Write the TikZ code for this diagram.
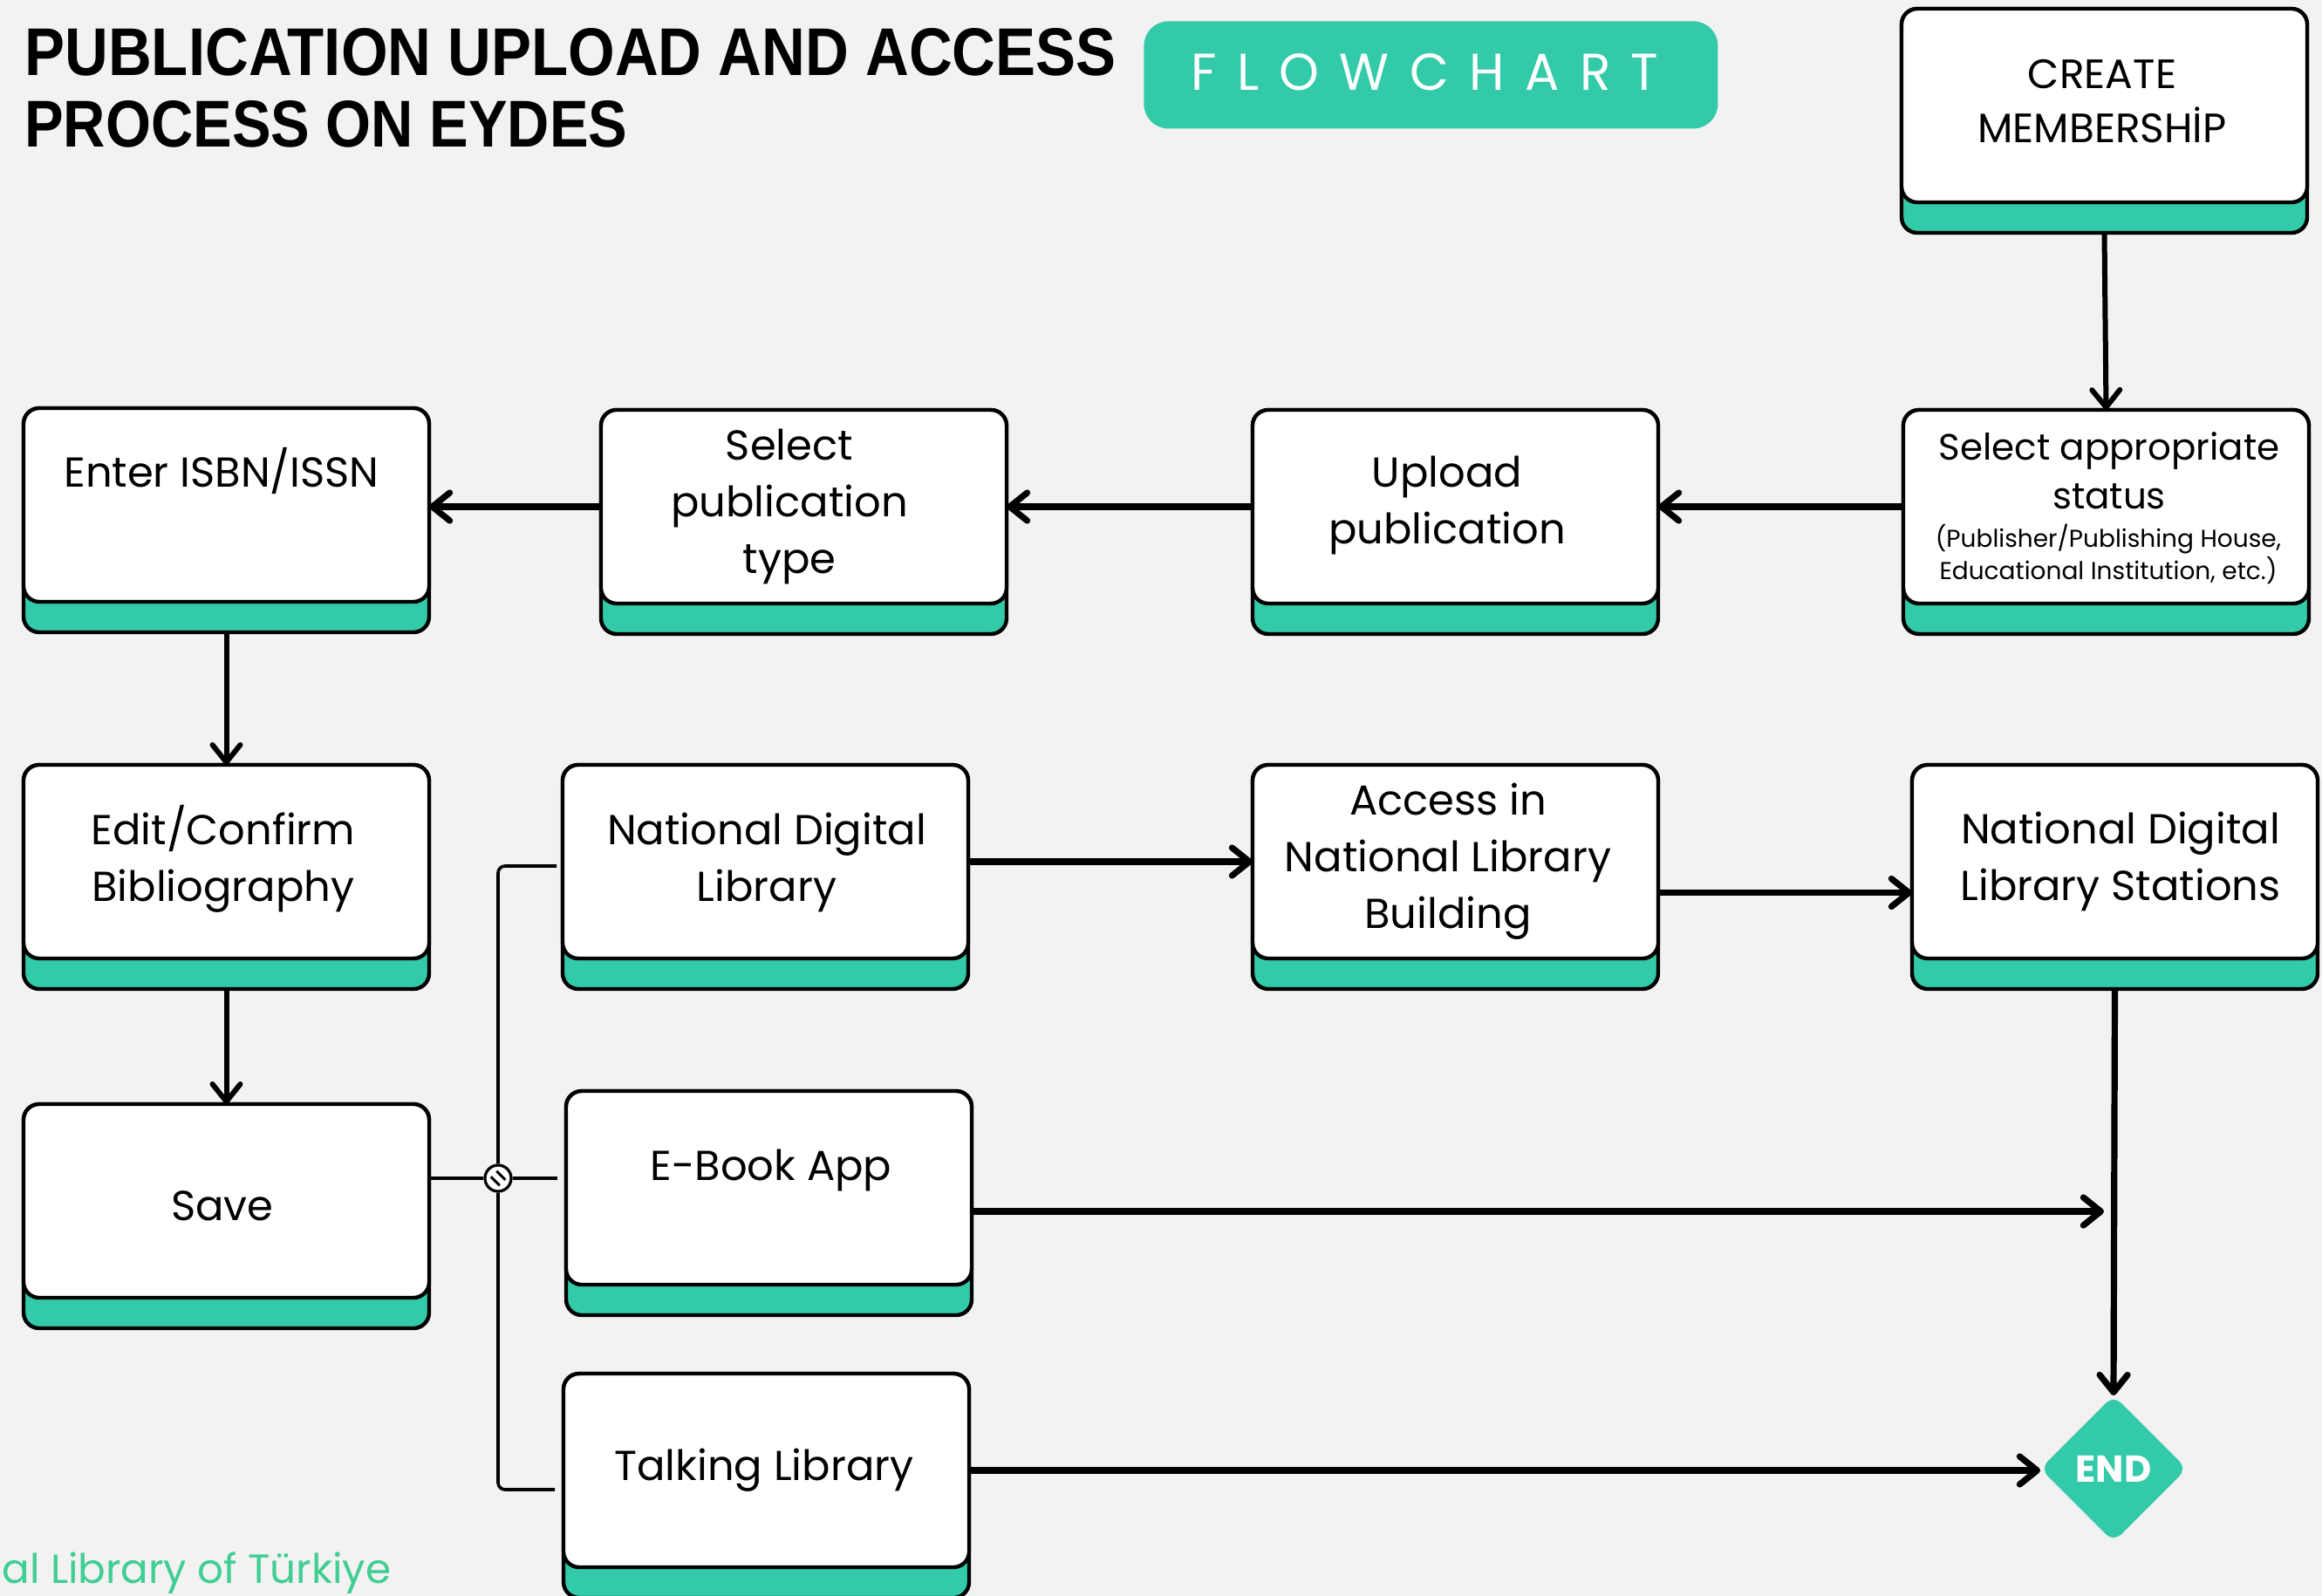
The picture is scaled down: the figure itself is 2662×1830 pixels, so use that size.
\documentclass[tikz,border=0pt]{standalone}
\usepackage{fontspec}
\usepackage{graphicx}
\usetikzlibrary{arrows.meta,shapes.geometric,calc}
\setmainfont{Poppins}
\newfontfamily\boxfam{Poppins}
\newfontfamily\titlefam{Liberation Sans}
\newfontfamily\flowfam[LetterSpace=40]{Poppins}
\definecolor{tealbox}{RGB}{50,202,168}
\definecolor{bggray}{RGB}{242,242,242}
\definecolor{footgreen}{RGB}{64,206,146}
\newcommand\flowbox[3]{%
  \node[outerbox] (#1) at (#2,#3) {};
  \draw[innerbox] (#1.north west) rectangle ([yshift=17.5pt]#1.south east);
}
\begin{document}
\begin{tikzpicture}[x=0.5pt,y=-0.5pt,
  outerbox/.style={draw=black, line width=2.2pt, fill=tealbox, rounded corners=9pt,
    minimum width=232.5pt, minimum height=128.5pt, inner sep=0pt, outer sep=0pt, anchor=north west},
  innerbox/.style={draw=black, line width=2.2pt, fill=white, rounded corners=9pt},
  boxtext/.style={anchor=base, inner sep=0pt, align=center, text=black,
    font=\boxfam\fontsize{24}{32.5}\selectfont},
  thickarrow/.style={line width=3.6pt, -{Straight Barb[round, length=10pt, width=16pt]}},
  thinarrow/.style={line width=3pt, -{Straight Barb[round, length=10pt, width=16pt]}},
  thinline/.style={line width=2.2pt},
  vline/.style={line width=1.8pt},
]
\fill[bggray] (0,0) rectangle (2662,1830);
\useasboundingbox (0,0) rectangle (2662,1830);

% title
\node[anchor=base west, inner sep=0pt] (title1) at (28,87)
  {\resizebox{625.5pt}{27pt}{\titlefam\bfseries PUBLICATION UPLOAD AND ACCESS}};
\node[anchor=base west, inner sep=0pt] (title2) at (28,169)
  {\resizebox{345.5pt}{26.5pt}{\titlefam\bfseries PROCESS ON EYDES}};

% badge
\node[fill=tealbox, rounded corners=14pt, minimum width=329pt, minimum height=61.5pt,
  inner sep=0pt, anchor=north west] (badge) at (1311,24) {};
\node[anchor=base west, inner sep=0pt, text=white] (flowtxt) at (1365,104)
  {\resizebox{268pt}{21pt}{\flowfam FLOWCHART}};

% boxes
\flowbox{create}{2180}{10}
\flowbox{status}{2182}{470}
\flowbox{upload}{1436}{470}
\flowbox{seltype}{689}{470}
\flowbox{enter}{27}{468}
\flowbox{edit}{27}{877}
\flowbox{ndl}{645}{877}
\flowbox{access}{1436}{877}
\flowbox{stations}{2192}{877}
\flowbox{save}{27}{1266}
\flowbox{ebook}{649}{1251}
\flowbox{talking}{646}{1575}

% texts (base = baseline of the last line)
\node[boxtext, font=\boxfam\fontsize{23.5}{31}\selectfont] (create-t) at (2410,164) {CREATE\\MEMBERSHİP};
\node[boxtext] (enter-t) at (254,558) {Enter ISBN/ISSN};
\node[boxtext] (seltype-t) at (905,657) {Select\\publication\\type};
\node[boxtext] (upload-t) at (1659,623) {Upload\\publication};
\node[boxtext, font=\boxfam\fontsize{21}{28}\selectfont] (status-t) at (2418,583) {Select appropriate\\status};
\node[boxtext, font=\boxfam\fontsize{14}{18.5}\selectfont] (status-s) at (2417,664) {(Publisher/Publishing House,\\Educational Institution, etc.)};
\node[boxtext] (edit-t) at (256,1033) {Edit/Confirm\\Bibliography};
\node[boxtext] (ndl-t) at (879,1033) {National Digital\\Library};
\node[boxtext] (access-t) at (1660,1064) {Access in\\National Library\\Building};
\node[boxtext] (stations-t) at (2431,1032) {National Digital\\Library Stations};
\node[boxtext] (save-t) at (255,1399) {Save};
\node[boxtext] (ebook-t) at (884,1353) {E-Book App};
\node[boxtext] (talking-t) at (876,1697) {Talking Library};

% end
\node[diamond, fill=tealbox, rounded corners=6pt, minimum width=84pt, minimum height=84pt,
  inner sep=0pt, outer sep=0pt, text=white, font=\boxfam\bfseries\fontsize{21.5}{24}\selectfont] (end) at (2423,1684) {END};

% footer
\node[anchor=base west, inner sep=0pt, text=footgreen, font=\boxfam\fontsize{23.4}{28}\selectfont] (foot) at (2,1815) {al Library of Türkiye};

% arrows
\draw[thinarrow] (create.south) -- (status.north);
\draw[thickarrow] ([yshift=8.75pt]status.west) -- ([yshift=8.75pt]upload.east);
\draw[thickarrow] ([yshift=8.75pt]upload.west) -- ([yshift=8.75pt]seltype.east);
\draw[thickarrow] ([yshift=8.75pt]seltype.west) -- ([yshift=8.75pt]seltype.west -| enter.east);
\draw[thinarrow] (enter.south) -- (edit.north);
\draw[thinarrow] (edit.south) -- (save.north);
\draw[thickarrow] ([yshift=8.75pt]ndl.east) -- ([yshift=8.75pt]access.west);
\draw[thickarrow] ([yshift=-9pt]access.east) -- ([yshift=-9pt]stations.west);
\draw[thickarrow] (stations.south) -- (end.north);
\coordinate (ebend) at (2412,1389);
\draw[thickarrow] (ebook.east |- ebend) -- (ebend);
\draw[thickarrow] ([yshift=8.75pt]talking.east) -- ([yshift=8.75pt]talking.east -| end.west);

% junction
\node[circle, draw=black, line width=1.6pt, fill=white, minimum size=15pt, inner sep=0pt] (jn) at (571,1351) {};
\draw[line width=1.5pt] ($(jn)+(-1.8,-8.2)$) -- ($(jn)+(8.2,1.8)$);
\draw[line width=1.5pt] ($(jn)+(-8.2,-1.8)$) -- ($(jn)+(1.8,8.2)$);
\draw[thinline] (jn.west) -- (jn.west -| save.east);
\draw[thinline] (jn.east) -- ([xshift=-5pt]jn.east -| ebook.west);
\draw[vline, rounded corners=4pt] (jn.north) |- ([xshift=-3.5pt, yshift=6.25pt]ndl.west);
\draw[vline, rounded corners=4pt] (jn.south) |- ([xshift=-5pt, yshift=-2.25pt]talking.west);
\end{tikzpicture}
\end{document}
